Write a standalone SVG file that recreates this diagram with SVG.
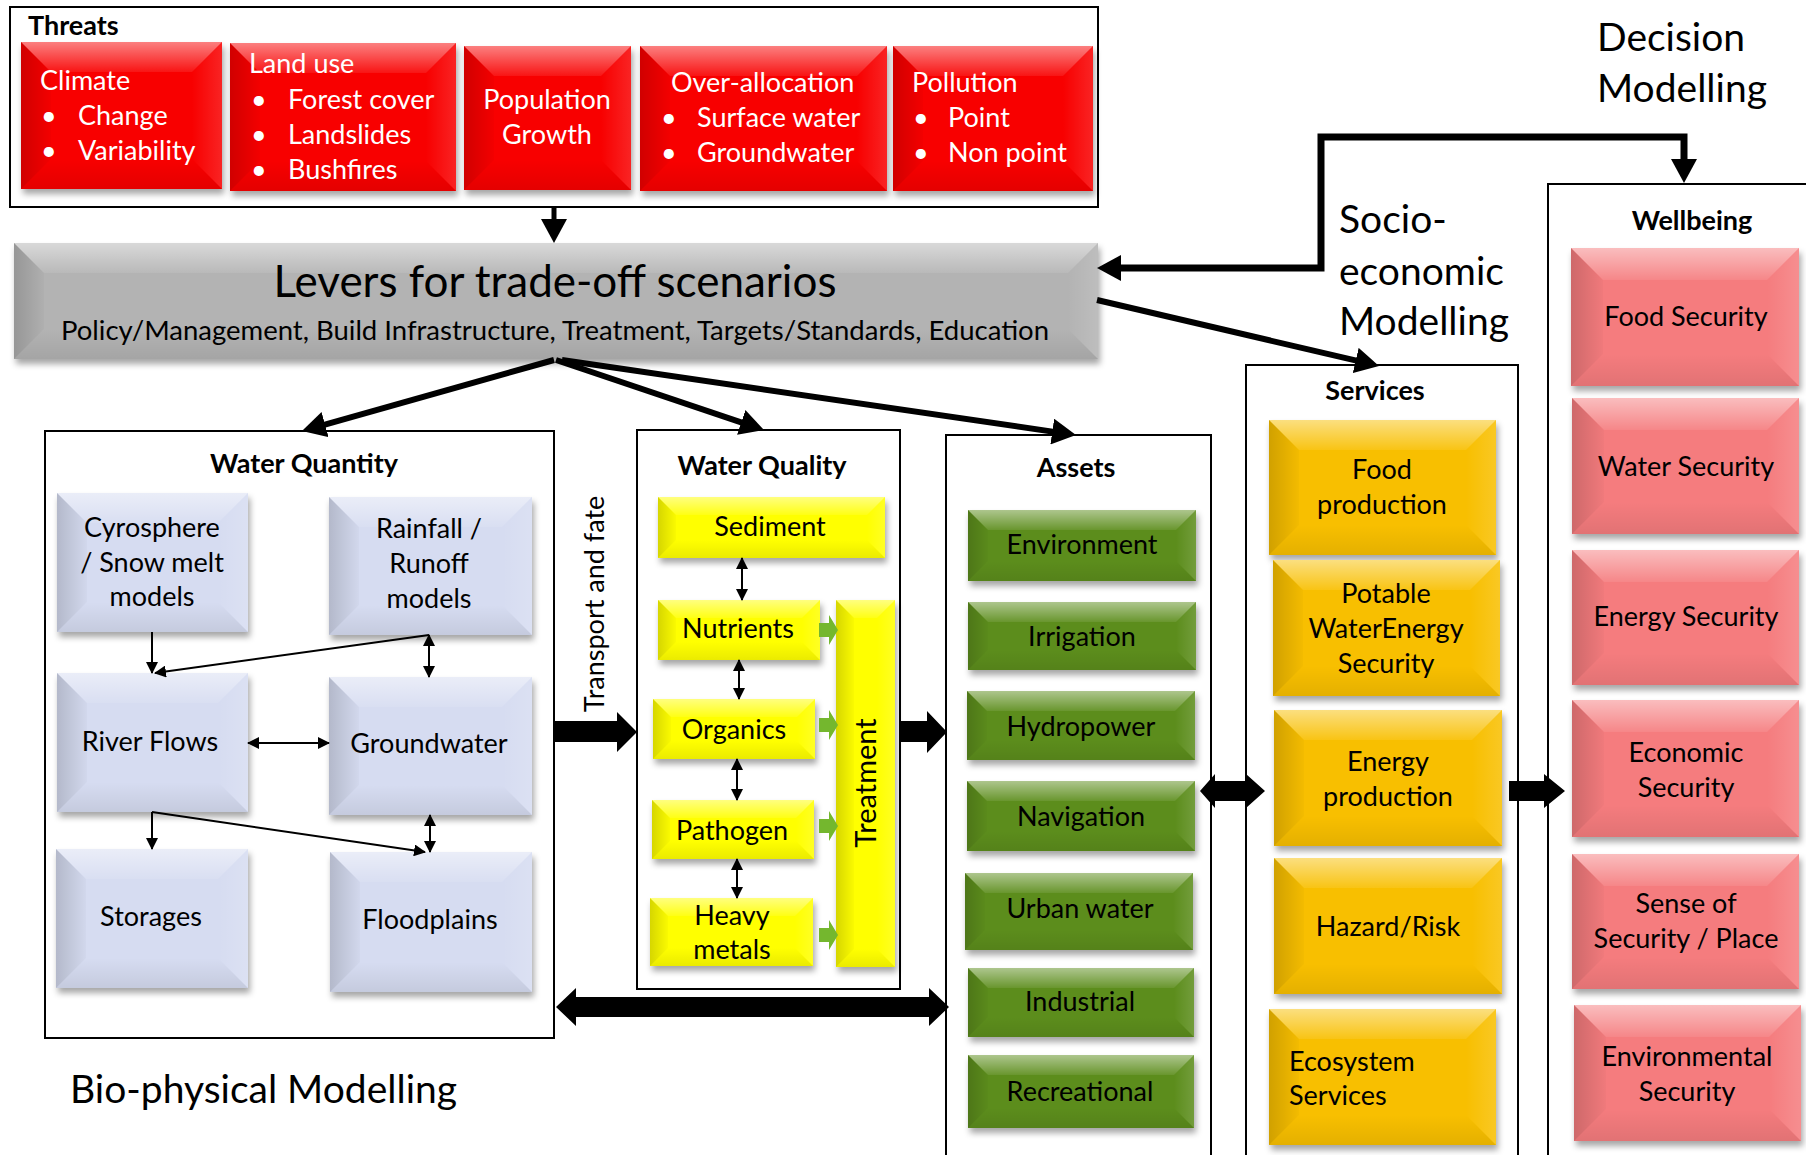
<svg xmlns="http://www.w3.org/2000/svg" width="1806" height="1155" viewBox="0 0 1806 1155">
<defs>
<style>
text{font-family:Lato,"Open Sans","Liberation Sans",sans-serif;}
.c{text-anchor:middle}
.n{font-size:27px;fill:#000}
.w{font-size:27px;fill:#fff}
.hd{font-weight:bold;font-size:27px;fill:#000;text-anchor:middle}
.big{font-size:39px;fill:#000}
.frame{fill:#fff;stroke:#000;stroke-width:2}
.b{filter:url(#sh)}
.red .b{fill:#f80000}
.gray .b{fill:#b3b3b3}
.blue .b{fill:#d6dcf1}
.yel .b{fill:#ffff00}
.grn .b{fill:#5c8d1f}
.org .b{fill:#f8bf00}
.pnk .b{fill:#f57b7e}
.t{fill:url(#gT)}
.l{fill:url(#gL)}
.r{fill:url(#gR)}
.bt{fill:url(#gB)}
.conn line,.conn path{stroke:#000;fill:none}
.thick{stroke-width:6}
.thin{stroke-width:2}
.blk{fill:#000}
.garr{fill:#74b72e}
</style>
<filter id="sh" x="-10%" y="-10%" width="125%" height="130%">
<feDropShadow dx="2" dy="5" stdDeviation="3" flood-color="#000" flood-opacity="0.35"/>
</filter>
<linearGradient id="gT" x1="0" y1="0" x2="0" y2="1"><stop offset="0" stop-color="#fff" stop-opacity="0.5"/><stop offset="1" stop-color="#fff" stop-opacity="0.08"/></linearGradient>
<linearGradient id="gL" x1="0" y1="0" x2="1" y2="0"><stop offset="0" stop-color="#000" stop-opacity="0.16"/><stop offset="1" stop-color="#000" stop-opacity="0.02"/></linearGradient>
<linearGradient id="gR" x1="0" y1="0" x2="1" y2="0"><stop offset="0" stop-color="#fff" stop-opacity="0"/><stop offset="1" stop-color="#fff" stop-opacity="0.14"/></linearGradient>
<linearGradient id="gB" x1="0" y1="0" x2="0" y2="1"><stop offset="0" stop-color="#000" stop-opacity="0"/><stop offset="1" stop-color="#000" stop-opacity="0.08"/></linearGradient>
<marker id="ah" markerUnits="userSpaceOnUse" markerWidth="24" markerHeight="26" refX="14" refY="13" orient="auto-start-reverse" viewBox="0 0 24 26"><path d="M0,0 L24,13 L0,26 z" fill="#000"/></marker>
<marker id="as" markerUnits="userSpaceOnUse" markerWidth="12" markerHeight="12" refX="11" refY="6" orient="auto-start-reverse" viewBox="0 0 12 12"><path d="M0,0 L12,6 L0,12 z" fill="#000"/></marker>
</defs>
<rect width="1806" height="1155" fill="#fff"/>

<!-- frames -->
<g id="threats" >
<rect class="frame" x="10" y="7" width="1088" height="200"/>
<text x="28" y="35" style="font-weight:bold;font-size:27px">Threats</text>
</g>
<rect id="frame-quantity" class="frame" x="45" y="431" width="509" height="607"/>
<text class="hd" x="304" y="473">Water Quantity</text>
<rect id="frame-quality" class="frame" x="637" y="430" width="263" height="559"/>
<text class="hd" x="762" y="475">Water Quality</text>
<rect id="frame-assets" class="frame" x="946" y="435" width="265" height="740"/>
<text class="hd" x="1076" y="477">Assets</text>
<rect id="frame-services" class="frame" x="1246" y="365" width="272" height="810"/>
<text class="hd" x="1375" y="400">Services</text>
<rect id="frame-wellbeing" class="frame" x="1548" y="184" width="280" height="990"/>
<text class="hd" x="1692" y="230">Wellbeing</text>

<!-- threats -->
<g id="climate" class="red">
<rect class="b" x="21" y="42" width="201" height="147"/>
<polygon class="t" points="21,42 222,42 192,72 51,72"/><polygon class="l" points="21,42 51,72 51,159 21,189"/><polygon class="r" points="222,42 192,72 192,159 222,189"/><polygon class="bt" points="21,189 51,159 192,159 222,189"/>
<text class="w" x="40" y="90">Climate</text>
<text class="w" x="41" y="125">•</text><text class="w" x="78" y="125">Change</text>
<text class="w" x="41" y="160">•</text><text class="w" x="78" y="160">Variability</text>
</g>
<g id="landuse" class="red">
<rect class="b" x="230" y="43" width="226" height="148"/>
<polygon class="t" points="230,43 456,43 426,73 260,73"/><polygon class="l" points="230,43 260,73 260,161 230,191"/><polygon class="r" points="456,43 426,73 426,161 456,191"/><polygon class="bt" points="230,191 260,161 426,161 456,191"/>
<text class="w" x="249" y="73">Land use</text>
<text class="w" x="251" y="109">•</text><text class="w" x="288" y="109">Forest cover</text>
<text class="w" x="251" y="144">•</text><text class="w" x="288" y="144">Landslides</text>
<text class="w" x="251" y="179">•</text><text class="w" x="288" y="179">Bushfires</text>
</g>
<g id="population" class="red">
<rect class="b" x="464" y="46" width="167" height="144"/>
<polygon class="t" points="464,46 631,46 601,76 494,76"/><polygon class="l" points="464,46 494,76 494,160 464,190"/><polygon class="r" points="631,46 601,76 601,160 631,190"/><polygon class="bt" points="464,190 494,160 601,160 631,190"/>
<text class="w c" x="547" y="109">Population</text>
<text class="w c" x="547" y="144">Growth</text>
</g>
<g id="overallocation" class="red">
<rect class="b" x="640" y="46" width="247" height="145"/>
<polygon class="t" points="640,46 887,46 857,76 670,76"/><polygon class="l" points="640,46 670,76 670,161 640,191"/><polygon class="r" points="887,46 857,76 857,161 887,191"/><polygon class="bt" points="640,191 670,161 857,161 887,191"/>
<text class="w" x="671" y="92">Over-allocation</text>
<text class="w" x="661" y="127">•</text><text class="w" x="697" y="127">Surface water</text>
<text class="w" x="661" y="162">•</text><text class="w" x="697" y="162">Groundwater</text>
</g>
<g id="pollution" class="red">
<rect class="b" x="893" y="46" width="200" height="145"/>
<polygon class="t" points="893,46 1093,46 1063,76 923,76"/><polygon class="l" points="893,46 923,76 923,161 893,191"/><polygon class="r" points="1093,46 1063,76 1063,161 1093,191"/><polygon class="bt" points="893,191 923,161 1063,161 1093,191"/>
<text class="w" x="912" y="92">Pollution</text>
<text class="w" x="913" y="127">•</text><text class="w" x="948" y="127">Point</text>
<text class="w" x="913" y="162">•</text><text class="w" x="948" y="162">Non point</text>
</g>

<!-- levers -->
<g id="levers" class="gray">
<rect class="b" x="14" y="243" width="1084" height="116"/>
<polygon class="t" points="14,243 1098,243 1068,273 44,273"/><polygon class="l" points="14,243 44,273 44,329 14,359"/><polygon class="r" points="1098,243 1068,273 1068,329 1098,359"/><polygon class="bt" points="14,359 44,329 1068,329 1098,359"/>
<text class="c" x="555" y="297" style="font-size:44px">Levers for trade-off scenarios</text>
<text class="c" x="555" y="340" style="font-size:27.5px">Policy/Management, Build Infrastructure, Treatment, Targets/Standards, Education</text>
</g>

<!-- water quantity -->
<g id="cyrosphere" class="blue">
<rect class="b" x="57" y="493" width="191" height="139"/>
<polygon class="t" points="57,493 248,493 218,523 87,523"/><polygon class="l" points="57,493 87,523 87,602 57,632"/><polygon class="r" points="248,493 218,523 218,602 248,632"/><polygon class="bt" points="57,632 87,602 218,602 248,632"/>
<text class="n c" x="152" y="537">Cyrosphere</text><text class="n c" x="152" y="572">/ Snow melt</text><text class="n c" x="152" y="606">models</text>
</g>
<g id="rainfall" class="blue">
<rect class="b" x="329" y="497" width="203" height="138"/>
<polygon class="t" points="329,497 532,497 502,527 359,527"/><polygon class="l" points="329,497 359,527 359,605 329,635"/><polygon class="r" points="532,497 502,527 502,605 532,635"/><polygon class="bt" points="329,635 359,605 502,605 532,635"/>
<text class="n c" x="429" y="538">Rainfall /</text><text class="n c" x="429" y="573">Runoff</text><text class="n c" x="429" y="608">models</text>
</g>
<g id="riverflows" class="blue">
<rect class="b" x="57" y="673" width="191" height="139"/>
<polygon class="t" points="57,673 248,673 218,703 87,703"/><polygon class="l" points="57,673 87,703 87,782 57,812"/><polygon class="r" points="248,673 218,703 218,782 248,812"/><polygon class="bt" points="57,812 87,782 218,782 248,812"/>
<text class="n c" x="150" y="751">River Flows</text>
</g>
<g id="groundwater" class="blue">
<rect class="b" x="329" y="677" width="203" height="138"/>
<polygon class="t" points="329,677 532,677 502,707 359,707"/><polygon class="l" points="329,677 359,707 359,785 329,815"/><polygon class="r" points="532,677 502,707 502,785 532,815"/><polygon class="bt" points="329,815 359,785 502,785 532,815"/>
<text class="n c" x="429" y="753">Groundwater</text>
</g>
<g id="storages" class="blue">
<rect class="b" x="56" y="849" width="192" height="139"/>
<polygon class="t" points="56,849 248,849 218,879 86,879"/><polygon class="l" points="56,849 86,879 86,958 56,988"/><polygon class="r" points="248,849 218,879 218,958 248,988"/><polygon class="bt" points="56,988 86,958 218,958 248,988"/>
<text class="n c" x="151" y="926">Storages</text>
</g>
<g id="floodplains" class="blue">
<rect class="b" x="330" y="852" width="202" height="140"/>
<polygon class="t" points="330,852 532,852 502,882 360,882"/><polygon class="l" points="330,852 360,882 360,962 330,992"/><polygon class="r" points="532,852 502,882 502,962 532,992"/><polygon class="bt" points="330,992 360,962 502,962 532,992"/>
<text class="n c" x="430" y="929">Floodplains</text>
</g>

<!-- water quality -->
<g id="sediment" class="yel">
<rect class="b" x="658" y="497" width="227" height="61"/>
<polygon class="t" points="658,497 885,497 867,515 676,515"/><polygon class="l" points="658,497 676,515 676,540 658,558"/><polygon class="r" points="885,497 867,515 867,540 885,558"/><polygon class="bt" points="658,558 676,540 867,540 885,558"/>
<text class="n c" x="770" y="536">Sediment</text>
</g>
<g id="nutrients" class="yel">
<rect class="b" x="658" y="600" width="162" height="60"/>
<polygon class="t" points="658,600 820,600 802,618 676,618"/><polygon class="l" points="658,600 676,618 676,642 658,660"/><polygon class="r" points="820,600 802,618 802,642 820,660"/><polygon class="bt" points="658,660 676,642 802,642 820,660"/>
<text class="n c" x="738" y="638">Nutrients</text>
</g>
<g id="organics" class="yel">
<rect class="b" x="653" y="699" width="162" height="60"/>
<polygon class="t" points="653,699 815,699 797,717 671,717"/><polygon class="l" points="653,699 671,717 671,741 653,759"/><polygon class="r" points="815,699 797,717 797,741 815,759"/><polygon class="bt" points="653,759 671,741 797,741 815,759"/>
<text class="n c" x="734" y="739">Organics</text>
</g>
<g id="pathogen" class="yel">
<rect class="b" x="652" y="800" width="162" height="59"/>
<polygon class="t" points="652,800 814,800 796,818 670,818"/><polygon class="l" points="652,800 670,818 670,841 652,859"/><polygon class="r" points="814,800 796,818 796,841 814,859"/><polygon class="bt" points="652,859 670,841 796,841 814,859"/>
<text class="n c" x="732" y="840">Pathogen</text>
</g>
<g id="heavymetals" class="yel">
<rect class="b" x="650" y="898" width="163" height="68"/>
<polygon class="t" points="650,898 813,898 795,916 668,916"/><polygon class="l" points="650,898 668,916 668,948 650,966"/><polygon class="r" points="813,898 795,916 795,948 813,966"/><polygon class="bt" points="650,966 668,948 795,948 813,966"/>
<text class="n c" x="732" y="925">Heavy</text><text class="n c" x="732" y="959">metals</text>
</g>
<g id="treatment" class="yel">
<rect class="b" x="836" y="600" width="59" height="367"/>
<polygon class="t" points="836,600 895,600 877,618 854,618"/><polygon class="l" points="836,600 854,618 854,949 836,967"/><polygon class="r" points="895,600 877,618 877,949 895,967"/><polygon class="bt" points="836,967 854,949 877,949 895,967"/>
<text class="n c" transform="translate(876,783) rotate(-90)" x="0" y="0" style="font-size:29px">Treatment</text>
</g>
<g id="green-arrows">
<polygon class="garr" points="819,623 829,623 829,615 838,630 829,645 829,637 819,637"/>
<polygon class="garr" points="819,718 829,718 829,710 838,725 829,740 829,732 819,732"/>
<polygon class="garr" points="819,819 829,819 829,811 838,826 829,841 829,833 819,833"/>
<polygon class="garr" points="819,928 829,928 829,920 838,935 829,950 829,942 819,942"/>
</g>

<!-- assets -->
<g id="environment" class="grn">
<rect class="b" x="968" y="510" width="228" height="71"/>
<polygon class="t" points="968,510 1196,510 1176,530 988,530"/><polygon class="l" points="968,510 988,530 988,561 968,581"/><polygon class="r" points="1196,510 1176,530 1176,561 1196,581"/><polygon class="bt" points="968,581 988,561 1176,561 1196,581"/>
<text class="n c" x="1082" y="554">Environment</text>
</g>
<g id="irrigation" class="grn">
<rect class="b" x="968" y="602" width="228" height="68"/>
<polygon class="t" points="968,602 1196,602 1176,622 988,622"/><polygon class="l" points="968,602 988,622 988,650 968,670"/><polygon class="r" points="1196,602 1176,622 1176,650 1196,670"/><polygon class="bt" points="968,670 988,650 1176,650 1196,670"/>
<text class="n c" x="1082" y="646">Irrigation</text>
</g>
<g id="hydropower" class="grn">
<rect class="b" x="967" y="691" width="228" height="69"/>
<polygon class="t" points="967,691 1195,691 1175,711 987,711"/><polygon class="l" points="967,691 987,711 987,740 967,760"/><polygon class="r" points="1195,691 1175,711 1175,740 1195,760"/><polygon class="bt" points="967,760 987,740 1175,740 1195,760"/>
<text class="n c" x="1081" y="736">Hydropower</text>
</g>
<g id="navigation" class="grn">
<rect class="b" x="967" y="781" width="228" height="70"/>
<polygon class="t" points="967,781 1195,781 1175,801 987,801"/><polygon class="l" points="967,781 987,801 987,831 967,851"/><polygon class="r" points="1195,781 1175,801 1175,831 1195,851"/><polygon class="bt" points="967,851 987,831 1175,831 1195,851"/>
<text class="n c" x="1081" y="826">Navigation</text>
</g>
<g id="urbanwater" class="grn">
<rect class="b" x="965" y="873" width="228" height="77"/>
<polygon class="t" points="965,873 1193,873 1173,893 985,893"/><polygon class="l" points="965,873 985,893 985,930 965,950"/><polygon class="r" points="1193,873 1173,893 1173,930 1193,950"/><polygon class="bt" points="965,950 985,930 1173,930 1193,950"/>
<text class="n c" x="1080" y="918">Urban water</text>
</g>
<g id="industrial" class="grn">
<rect class="b" x="968" y="968" width="226" height="69"/>
<polygon class="t" points="968,968 1194,968 1174,988 988,988"/><polygon class="l" points="968,968 988,988 988,1017 968,1037"/><polygon class="r" points="1194,968 1174,988 1174,1017 1194,1037"/><polygon class="bt" points="968,1037 988,1017 1174,1017 1194,1037"/>
<text class="n c" x="1080" y="1011">Industrial</text>
</g>
<g id="recreational" class="grn">
<rect class="b" x="968" y="1055" width="226" height="73"/>
<polygon class="t" points="968,1055 1194,1055 1174,1075 988,1075"/><polygon class="l" points="968,1055 988,1075 988,1108 968,1128"/><polygon class="r" points="1194,1055 1174,1075 1174,1108 1194,1128"/><polygon class="bt" points="968,1128 988,1108 1174,1108 1194,1128"/>
<text class="n c" x="1080" y="1101">Recreational</text>
</g>

<!-- services -->
<g id="foodproduction" class="org">
<rect class="b" x="1269" y="420" width="227" height="135"/>
<polygon class="t" points="1269,420 1496,420 1466,450 1299,450"/><polygon class="l" points="1269,420 1299,450 1299,525 1269,555"/><polygon class="r" points="1496,420 1466,450 1466,525 1496,555"/><polygon class="bt" points="1269,555 1299,525 1466,525 1496,555"/>
<text class="n c" x="1382" y="479">Food</text><text class="n c" x="1382" y="514">production</text>
</g>
<g id="potable" class="org">
<rect class="b" x="1273" y="560" width="227" height="136"/>
<polygon class="t" points="1273,560 1500,560 1470,590 1303,590"/><polygon class="l" points="1273,560 1303,590 1303,666 1273,696"/><polygon class="r" points="1500,560 1470,590 1470,666 1500,696"/><polygon class="bt" points="1273,696 1303,666 1470,666 1500,696"/>
<text class="n c" x="1386" y="603">Potable</text><text class="n c" x="1386" y="638">WaterEnergy</text><text class="n c" x="1386" y="673">Security</text>
</g>
<g id="energyproduction" class="org">
<rect class="b" x="1274" y="710" width="228" height="136"/>
<polygon class="t" points="1274,710 1502,710 1472,740 1304,740"/><polygon class="l" points="1274,710 1304,740 1304,816 1274,846"/><polygon class="r" points="1502,710 1472,740 1472,816 1502,846"/><polygon class="bt" points="1274,846 1304,816 1472,816 1502,846"/>
<text class="n c" x="1388" y="771">Energy</text><text class="n c" x="1388" y="806">production</text>
</g>
<g id="hazard" class="org">
<rect class="b" x="1274" y="858" width="228" height="136"/>
<polygon class="t" points="1274,858 1502,858 1472,888 1304,888"/><polygon class="l" points="1274,858 1304,888 1304,964 1274,994"/><polygon class="r" points="1502,858 1472,888 1472,964 1502,994"/><polygon class="bt" points="1274,994 1304,964 1472,964 1502,994"/>
<text class="n c" x="1388" y="936">Hazard/Risk</text>
</g>
<g id="ecosystem" class="org">
<rect class="b" x="1269" y="1009" width="227" height="136"/>
<polygon class="t" points="1269,1009 1496,1009 1466,1039 1299,1039"/><polygon class="l" points="1269,1009 1299,1039 1299,1115 1269,1145"/><polygon class="r" points="1496,1009 1466,1039 1466,1115 1496,1145"/><polygon class="bt" points="1269,1145 1299,1115 1466,1115 1496,1145"/>
<text class="n" x="1289" y="1071">Ecosystem</text><text class="n" x="1289" y="1105">Services</text>
</g>

<!-- wellbeing -->
<g id="foodsecurity" class="pnk">
<rect class="b" x="1571" y="248" width="228" height="138"/>
<polygon class="t" points="1571,248 1799,248 1767,280 1603,280"/><polygon class="l" points="1571,248 1603,280 1603,354 1571,386"/><polygon class="r" points="1799,248 1767,280 1767,354 1799,386"/><polygon class="bt" points="1571,386 1603,354 1767,354 1799,386"/>
<text class="n c" x="1686" y="326">Food Security</text>
</g>
<g id="watersecurity" class="pnk">
<rect class="b" x="1572" y="398" width="227" height="136"/>
<polygon class="t" points="1572,398 1799,398 1767,430 1604,430"/><polygon class="l" points="1572,398 1604,430 1604,502 1572,534"/><polygon class="r" points="1799,398 1767,430 1767,502 1799,534"/><polygon class="bt" points="1572,534 1604,502 1767,502 1799,534"/>
<text class="n c" x="1686" y="476">Water Security</text>
</g>
<g id="energysecurity" class="pnk">
<rect class="b" x="1572" y="550" width="227" height="135"/>
<polygon class="t" points="1572,550 1799,550 1767,582 1604,582"/><polygon class="l" points="1572,550 1604,582 1604,653 1572,685"/><polygon class="r" points="1799,550 1767,582 1767,653 1799,685"/><polygon class="bt" points="1572,685 1604,653 1767,653 1799,685"/>
<text class="n c" x="1686" y="626">Energy Security</text>
</g>
<g id="economicsecurity" class="pnk">
<rect class="b" x="1572" y="700" width="227" height="137"/>
<polygon class="t" points="1572,700 1799,700 1767,732 1604,732"/><polygon class="l" points="1572,700 1604,732 1604,805 1572,837"/><polygon class="r" points="1799,700 1767,732 1767,805 1799,837"/><polygon class="bt" points="1572,837 1604,805 1767,805 1799,837"/>
<text class="n c" x="1686" y="762">Economic</text><text class="n c" x="1686" y="797">Security</text>
</g>
<g id="senseofsecurity" class="pnk">
<rect class="b" x="1572" y="854" width="227" height="135"/>
<polygon class="t" points="1572,854 1799,854 1767,886 1604,886"/><polygon class="l" points="1572,854 1604,886 1604,957 1572,989"/><polygon class="r" points="1799,854 1767,886 1767,957 1799,989"/><polygon class="bt" points="1572,989 1604,957 1767,957 1799,989"/>
<text class="n c" x="1686" y="913">Sense of</text><text class="n c" x="1686" y="948">Security / Place</text>
</g>
<g id="environmentalsecurity" class="pnk">
<rect class="b" x="1574" y="1005" width="227" height="136"/>
<polygon class="t" points="1574,1005 1801,1005 1769,1037 1606,1037"/><polygon class="l" points="1574,1005 1606,1037 1606,1109 1574,1141"/><polygon class="r" points="1801,1005 1769,1037 1769,1109 1801,1141"/><polygon class="bt" points="1574,1141 1606,1109 1769,1109 1801,1141"/>
<text class="n c" x="1687" y="1066">Environmental</text><text class="n c" x="1687" y="1101">Security</text>
</g>

<!-- free labels -->
<g id="labels">
<text class="big" x="1597" y="51">Decision</text>
<text class="big" x="1597" y="102">Modelling</text>
<text class="big" x="1339" y="233">Socio-</text>
<text class="big" x="1339" y="285">economic</text>
<text class="big" x="1339" y="335">Modelling</text>
<text class="big" x="70" y="1103">Bio-physical Modelling</text>
<text class="n c" transform="translate(604,604) rotate(-90)" x="0" y="0" style="font-size:27px">Transport and fate</text>
</g>

<!-- connectors -->
<g id="connectors" class="conn">
<line class="thick" x1="554" y1="207" x2="554" y2="233" marker-end="url(#ah)" style="stroke-width:5"/>
<line class="thick" x1="554" y1="360" x2="311.6" y2="428.3" marker-end="url(#ah)"/>
<line class="thick" x1="556" y1="360" x2="754.5" y2="426.8" marker-end="url(#ah)"/>
<line class="thick" x1="562" y1="360" x2="1066.1" y2="433.6" marker-end="url(#ah)"/>
<line class="thick" x1="1097" y1="300" x2="1369.3" y2="363.7" marker-end="url(#ah)"/>
<path d="M1107,268 L1321,268 L1321,137 L1684,137 L1684,173" style="stroke-width:7" marker-start="url(#ah)" marker-end="url(#ah)"/>
<line class="thin" x1="152" y1="632" x2="152" y2="673" marker-end="url(#as)"/>
<line class="thin" x1="429" y1="635" x2="155" y2="673" marker-end="url(#as)"/>
<line class="thin" x1="429" y1="635" x2="429" y2="677" marker-start="url(#as)" marker-end="url(#as)"/>
<line class="thin" x1="248" y1="743" x2="329" y2="743" marker-start="url(#as)" marker-end="url(#as)"/>
<line class="thin" x1="152" y1="812" x2="152" y2="849" marker-end="url(#as)"/>
<line class="thin" x1="152" y1="812" x2="425" y2="852" marker-end="url(#as)"/>
<line class="thin" x1="430" y1="815" x2="430" y2="852" marker-start="url(#as)" marker-end="url(#as)"/>
<line class="thin" x1="742" y1="558" x2="742" y2="600" marker-start="url(#as)" marker-end="url(#as)"/>
<line class="thin" x1="739" y1="660" x2="739" y2="699" marker-start="url(#as)" marker-end="url(#as)"/>
<line class="thin" x1="737" y1="759" x2="737" y2="800" marker-start="url(#as)" marker-end="url(#as)"/>
<line class="thin" x1="737" y1="859" x2="737" y2="898" marker-start="url(#as)" marker-end="url(#as)"/>
<polygon class="blk" points="554,721 617,721 617,712 637,732 617,752 617,742 554,742"/>
<polygon class="blk" points="900,721 927,721 927,711 947,732 927,753 927,742 900,742"/>
<polygon class="blk" points="556,1007 576,988 576,997 929,997 929,988 949,1007 929,1026 929,1017 576,1017 576,1026"/>
<polygon class="blk" points="1200,791 1215,774 1215,781 1246,781 1246,774 1265,791 1246,808 1246,801 1215,801 1215,808"/>
<polygon class="blk" points="1509,781 1544,781 1544,774 1565,791 1544,808 1544,801 1509,801"/>
</g>
</svg>
